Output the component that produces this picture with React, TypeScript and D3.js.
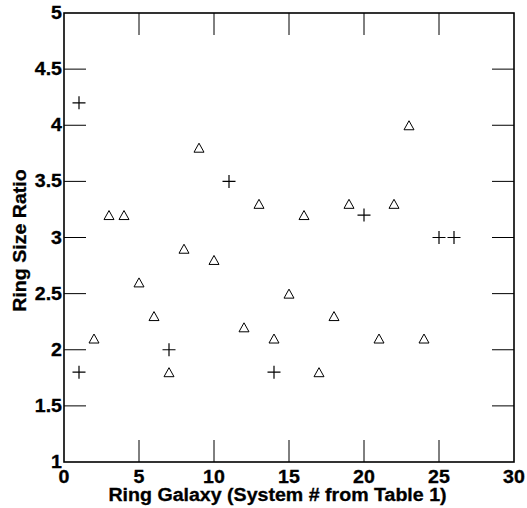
import React, { useEffect, useRef } from "react";
import * as d3 from "d3";

// systems drawn as crosses
const crossSystems = [1, 1, 7, 11, 14, 20, 25, 26];
const crossRatios = [4.2, 1.8, 2.0, 3.5, 1.8, 3.2, 3.0, 3.0];

// systems drawn as open triangles
const triSystems = [2, 3, 4, 5, 6, 7, 8, 9, 10, 12, 13, 14, 15, 16, 17, 18, 19, 21, 22, 23, 24];
const triRatios = [2.1, 3.2, 3.2, 2.6, 2.3, 1.8, 2.9, 3.8, 2.8, 2.2, 3.3, 2.1, 2.5, 3.2, 1.8, 2.3, 3.3, 2.1, 3.3, 4.0, 2.1];

const xTicks = [0, 5, 10, 15, 20, 25, 30];
const yTicks = [1, 1.5, 2, 2.5, 3, 3.5, 4, 4.5, 5];

const W = 527;
const H = 508;
const margin = { left: 64, right: 13, top: 13, bottom: 46 };

const App = () => {
  const ref = useRef<SVGSVGElement>(null);

  useEffect(() => {
    const svg = d3.select(ref.current);
    svg.selectAll("*").remove();

    const x = d3.scaleLinear().domain([0, 30]).range([margin.left, W - margin.right]);
    const y = d3.scaleLinear().domain([1, 5]).range([H - margin.bottom, margin.top]);
    const font = "'Liberation Sans', Arial, Helvetica, sans-serif";
    const fs = 17.5;
    const stretch = 1.12; // glyphs in the original are a bit wide
    const tickLen = 22;

    const g = svg.append("g");

    const label = (tx: number, ty: number, txt: string | number, anchor: string, rot = 0) =>
      g.append("text")
        .attr("transform", `translate(${tx},${ty})${rot ? ` rotate(${rot})` : ""} scale(${stretch},1)`)
        .attr("text-anchor", anchor)
        .attr("font-family", font).attr("font-weight", "bold").attr("font-size", fs)
        .attr("fill", "#000").attr("stroke", "#000").attr("stroke-width", 0.3)
        .text(txt);

    // ticks on all four sides, pointing inward
    xTicks.slice(1, -1).forEach((t) => {
      g.append("line").attr("x1", x(t)).attr("x2", x(t))
        .attr("y1", y(1)).attr("y2", y(1) - tickLen)
        .attr("stroke", "#000").attr("stroke-width", 1);
      g.append("line").attr("x1", x(t)).attr("x2", x(t))
        .attr("y1", y(5)).attr("y2", y(5) + tickLen)
        .attr("stroke", "#000").attr("stroke-width", 1);
    });
    yTicks.slice(1, -1).forEach((t) => {
      g.append("line").attr("x1", x(0)).attr("x2", x(0) + tickLen)
        .attr("y1", y(t)).attr("y2", y(t))
        .attr("stroke", "#000").attr("stroke-width", 1);
      g.append("line").attr("x1", x(30)).attr("x2", x(30) - tickLen)
        .attr("y1", y(t)).attr("y2", y(t))
        .attr("stroke", "#000").attr("stroke-width", 1);
    });

    // frame
    g.append("rect")
      .attr("x", x(0)).attr("y", y(5))
      .attr("width", x(30) - x(0)).attr("height", y(1) - y(5))
      .attr("fill", "none").attr("stroke", "#000").attr("stroke-width", 1.6);

    // tick labels
    xTicks.forEach((t) => label(x(t), y(1) + 20.5, t, "middle"));
    yTicks.forEach((t) => label(x(0) - 2, y(t) + 6, t, "end"));

    // axis titles
    label(277.5, H - 7, "Ring Galaxy (System # from Table 1)", "middle");
    label(25.5, (y(1) + y(5)) / 2 + 3, "Ring Size Ratio", "middle", -90);

    // cross markers
    const cs = 6.5;
    crossSystems.forEach((s, i) => {
      const cx = x(s);
      const cy = y(crossRatios[i]);
      g.append("path")
        .attr("d", `M${cx - cs},${cy}H${cx + cs}M${cx},${cy - cs}V${cy + cs}`)
        .attr("stroke", "#000").attr("stroke-width", 1.2).attr("fill", "none");
    });

    // triangle markers
    const tw = 5;
    const th = 4.5;
    triSystems.forEach((s, i) => {
      const cx = x(s);
      const cy = y(triRatios[i]);
      g.append("path")
        .attr("d", `M${cx},${cy - th}L${cx + tw},${cy + th}L${cx - tw},${cy + th}Z`)
        .attr("stroke", "#000").attr("stroke-width", 1).attr("fill", "none");
    });
  }, []);

  return <svg ref={ref} width={W} height={H} style={{ position: "absolute", left: 0, top: 0, background: "#fff" }} />;
};

export default App;
